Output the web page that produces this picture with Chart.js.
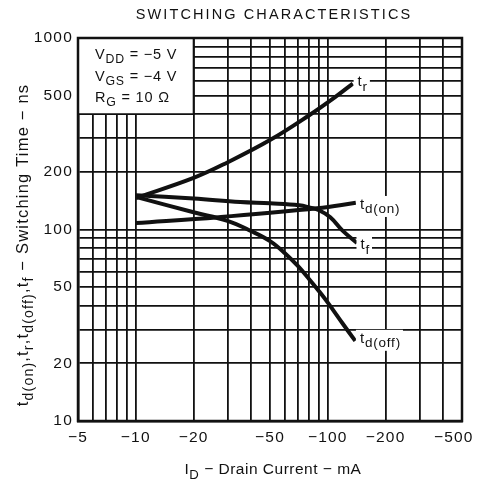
<!DOCTYPE html>
<html>
<head>
<meta charset="utf-8">
<script src="https://cdn.jsdelivr.net/npm/chart.js@4/dist/chart.umd.min.js"></script>
<style>
  html, body { margin: 0; padding: 0; background: #fff; }
  canvas { display: block; }
</style>
</head>
<body>
<canvas id="chart" width="478" height="485"></canvas>
<script>
// grid lines and labelled ticks
const xGrid = [5, 6, 7, 8, 9, 10, 20, 30, 40, 50, 60, 70, 80, 90, 100, 200, 300, 400, 500];
const yGrid = [10, 20, 30, 40, 50, 60, 70, 80, 90, 100, 200, 300, 400, 500, 600, 700, 800, 900, 1000];
const xTickLabels = [5, 10, 20, 50, 100, 200, 500];
const yTickLabels = [10, 20, 50, 100, 200, 500, 1000];

// curves, drain current in mA (magnitude) vs time in ns
const trCurrent = [10, 20, 30, 50, 80, 110, 135];
const trTime = [146, 186, 224, 293, 395, 494, 578];

const tdOnCurrent = [10, 27, 88, 140];
const tdOnTime = [108, 116, 129, 138];

const tfCurrent = [10, 20, 35, 50, 71, 81, 90, 103, 119, 142];
const tfTime = [151, 145, 139, 137, 134, 130, 126, 116, 99, 85];

const tdOffCurrent = [10, 20, 30, 40, 50, 60, 70, 80, 90, 100, 120, 139];
const tdOffTime = [148, 123, 111, 98, 87, 75, 64.3, 55, 47.6, 41.5, 32.1, 26.2];

const FONT = '"Liberation Sans", Arial, Helvetica, sans-serif';
const INK = '#111';

function pts(xs, ys) {
    return xs.map((x, i) => ({ x: x, y: ys[i] }));
}

function curve(label, xs, ys) {
    return {
        label: label,
        data: pts(xs, ys),
        borderColor: INK,
        borderWidth: 4,
        pointRadius: 0,
        fill: false,
        tension: 0.4,
        borderCapStyle: 'butt'
    };
}

// text with subscripts: runs = [[text, isSub], ...]
function runsWidth(ctx, runs, size, subScale) {
    let w = 0;
    runs.forEach(([t, sub]) => {
        ctx.font = (sub ? size * subScale : size) + 'px ' + FONT;
        w += ctx.measureText(t).width;
    });
    return w;
}

function drawRuns(ctx, runs, x, y, size, subScale) {
    let cx = x;
    ctx.textBaseline = 'alphabetic';
    ctx.textAlign = 'left';
    runs.forEach(([t, sub]) => {
        ctx.font = (sub ? size * subScale : size) + 'px ' + FONT;
        ctx.fillText(t, cx, y + (sub ? size * 0.3 : 0));
        cx += ctx.measureText(t).width;
    });
    return cx - x;
}

// curve labels, anchored in data coordinates
const curveLabels = [
    { runs: [['t', false], ['r', true]], x: 143, y: 561 },
    { runs: [['t', false], ['d(on)', true]], x: 147, y: 128 },
    { runs: [['t', false], ['f', true]], x: 148, y: 79 },
    { runs: [['t', false], ['d(off)', true]], x: 147, y: 25.6 }
];

const conditions = [
    [['V', false], ['DD', true], [' = \u22125 V', false]],
    [['V', false], ['GS', true], [' = \u22124 V', false]],
    [['R', false], ['G', true], [' = 10 \u03A9', false]]
];

const decor = {
    id: 'decor',
    beforeDraw(chart) {
        // spaced type for the tick labels
        chart.ctx.letterSpacing = '1.2px';
    },
    beforeDatasetsDraw(chart) {
        const { ctx, scales: { x, y } } = chart;
        // white condition box over the grid
        const l = x.getPixelForValue(5), r = x.getPixelForValue(20);
        const t = y.getPixelForValue(1000), b = y.getPixelForValue(400);
        ctx.save();
        ctx.fillStyle = '#fff';
        ctx.fillRect(l, t, r - l, b - t);
        ctx.strokeStyle = INK;
        ctx.lineWidth = 1.8;
        ctx.beginPath();
        ctx.moveTo(r, t); ctx.lineTo(r, b); ctx.lineTo(l, b);
        ctx.stroke();
        ctx.fillStyle = INK;
        ctx.letterSpacing = '0.8px';
        conditions.forEach((runs, i) => {
            drawRuns(ctx, runs, l + 17, t + 21 + i * 21.5, 14.5, 0.85);
        });
        ctx.restore();
    },
    afterDatasetsDraw(chart) {
        const { ctx, scales: { x, y } } = chart;
        ctx.save();
        ctx.letterSpacing = '0.8px';
        curveLabels.forEach(lb => {
            const px = x.getPixelForValue(lb.x);
            const py = y.getPixelForValue(lb.y);
            const w = runsWidth(ctx, lb.runs, 15, 0.9);
            ctx.fillStyle = '#fff';
            ctx.fillRect(px - 4, py - 13, w + 6, 21);
            ctx.fillStyle = INK;
            drawRuns(ctx, lb.runs, px, py, 15, 0.9);
        });
        ctx.restore();
    },
    afterDraw(chart) {
        const { ctx, chartArea: a } = chart;
        ctx.save();
        ctx.strokeStyle = INK;
        ctx.lineWidth = 2.5;
        ctx.strokeRect(a.left, a.top, a.right - a.left, a.bottom - a.top);

        // chart title
        ctx.fillStyle = INK;
        ctx.font = '14.5px ' + FONT;
        ctx.letterSpacing = '2.1px';
        ctx.textAlign = 'center';
        ctx.textBaseline = 'alphabetic';
        ctx.fillText('SWITCHING CHARACTERISTICS', 274, 19);

        // x axis title
        ctx.letterSpacing = '0.5px';
        const xt = [['I', false], ['D', true], [' \u2212 Drain Current \u2212 mA', false]];
        const xw = runsWidth(ctx, xt, 15.5, 0.85);
        drawRuns(ctx, xt, 273 - xw / 2, 474, 15.5, 0.85);

        // y axis title, rotated
        ctx.letterSpacing = '1.2px';
        const yt = [['t', false], ['d(on)', true], [',t', false], ['r', true], [',t', false],
                    ['d(off)', true], [',t', false], ['f', true], [' \u2212 Switching Time \u2212 ns', false]];
        const yw = runsWidth(ctx, yt, 16.5, 0.85);
        ctx.translate(28, 245);
        ctx.rotate(-Math.PI / 2);
        drawRuns(ctx, yt, -yw / 2, 0, 16.5, 0.85);
        ctx.restore();
    }
};

const ctx = document.getElementById('chart').getContext('2d');
const chart = new Chart(ctx, {
    type: 'line',
    data: {
        datasets: [
            curve('tr', trCurrent, trTime),
            curve('td(on)', tdOnCurrent, tdOnTime),
            curve('tf', tfCurrent, tfTime),
            curve('td(off)', tdOffCurrent, tdOffTime)
        ]
    },
    options: {
        responsive: false,
        animation: false,
        devicePixelRatio: 1,
        layout: { padding: { top: 38, right: 16, left: 0, bottom: 0 } },
        plugins: {
            legend: { display: false },
            title: { display: false },
            tooltip: { enabled: false }
        },
        scales: {
            x: {
                type: 'logarithmic',
                min: 5,
                max: 500,
                afterBuildTicks: s => { s.ticks = xGrid.map(v => ({ value: v })); },
                afterFit: s => { s.height = 64; s.paddingLeft = 0; s.paddingRight = 0; },
                grid: { color: INK, lineWidth: 1.8, drawTicks: false },
                border: { color: INK, width: 2.5 },
                ticks: {
                    autoSkip: false,
                    maxRotation: 0,
                    padding: 7,
                    color: INK,
                    font: { family: FONT, size: 15.5 },
                    // last label pulled left so it stays inside the page
                    callback: v => xTickLabels.includes(v) ? '\u2212' + v + (v === 500 ? '   ' : '') : ''
                }
            },
            y: {
                type: 'logarithmic',
                min: 10,
                max: 1000,
                afterBuildTicks: s => { s.ticks = yGrid.map(v => ({ value: v })); },
                afterFit: s => { s.width = 78; },
                grid: { color: INK, lineWidth: 1.8, drawTicks: false },
                border: { color: INK, width: 2.5 },
                ticks: {
                    autoSkip: false,
                    padding: 5,
                    color: INK,
                    font: { family: FONT, size: 15.5 },
                    callback: v => yTickLabels.includes(v) ? String(v) : ''
                }
            }
        }
    },
    plugins: [decor]
});
</script>
</body>
</html>
